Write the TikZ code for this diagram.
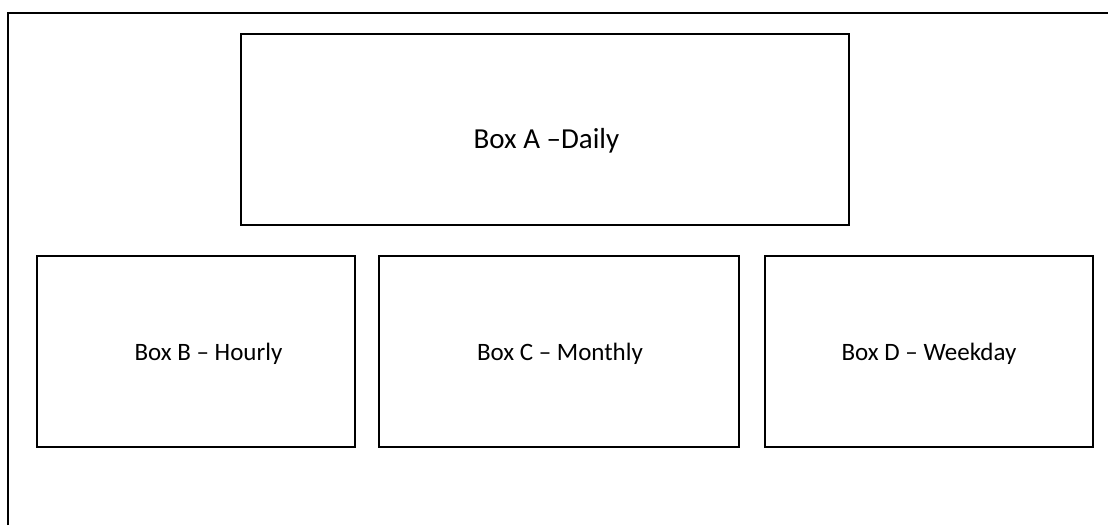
\documentclass[tikz,border=0pt]{standalone}
\usepackage{fontspec}
\setmainfont{Carlito}
\begin{document}
\begin{tikzpicture}[x=1pt,y=-1pt,
  boxframe/.style={draw=black,line width=1.6pt},
  boxlabel/.style={font=\fontsize{25}{30}\selectfont,inner sep=0pt,anchor=base}]
\useasboundingbox (0,0) rectangle (1108,525);
\draw[line width=2pt] (8,525) -- (8,13) -- (1108,13);
\draw[boxframe] (241,34) rectangle (849,225);
\draw[boxframe] (37,256) rectangle (355,447);
\draw[boxframe] (379,256) rectangle (739,447);
\draw[boxframe] (765,256) rectangle (1093,447);
\node[boxlabel,font=\fontsize{29}{34}\selectfont] (a) at (546.5,148) {Box A –Daily};
\node[boxlabel] (b) at (208.5,360) {Box B – Hourly};
\node[boxlabel] (c) at (560,360) {Box C – Monthly};
\node[boxlabel] (d) at (929,360) {Box D – Weekday};
\end{tikzpicture}
\end{document}
